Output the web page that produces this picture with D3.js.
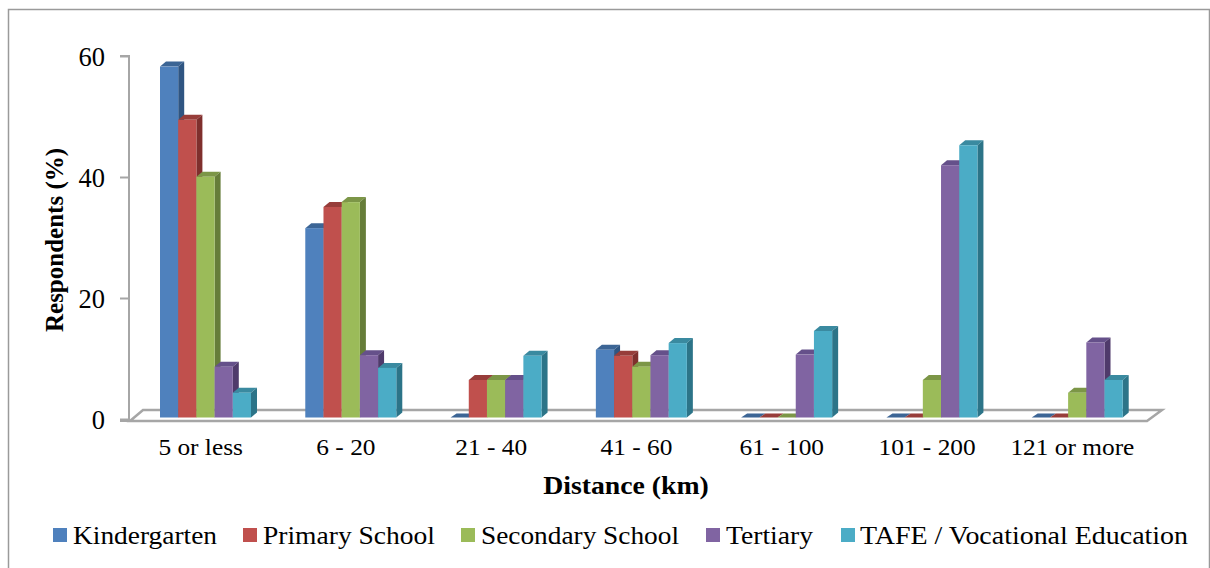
<!DOCTYPE html>
<html><head><meta charset="utf-8">
<script src="https://cdnjs.cloudflare.com/ajax/libs/d3/7.8.5/d3.min.js"></script>
<style>html,body{margin:0;padding:0;background:#fff}svg{display:block}text{font-family:"Liberation Serif",serif;fill:#000}</style>
</head><body><svg id="chart" width="1210" height="568"></svg>
<script>
const categories = ["5 or less","6 - 20","21 - 40","41 - 60","61 - 100","101 - 200","121 or more"];
const seriesNames = ["Kindergarten","Primary School","Secondary School","Tertiary","TAFE / Vocational Education"];
const kindergarten = [58,31.3,0,11.2,0,0,0];
const primarySchool = [49.2,34.8,6.2,10.2,0,0,0];
const secondarySchool = [39.8,35.6,6.2,8.4,0,6.2,4.1];
const tertiary = [8.4,10.3,6.2,10.3,10.4,41.7,12.4];
const tafe = [4.1,8.2,10.2,12.3,14.3,45,6.2];
const seriesValues = [kindergarten,primarySchool,secondarySchool,tertiary,tafe];
const yTicks = [0,20,40,60];
const frontColors = ["#4f81bd","#c0504d","#9bbb59","#8064a2","#4bacc6"];
const sideColors = ["#2f5582","#7f2f2d","#667d39","#4f3a6b","#2c7488"];
const topColors = ["#3c6595","#973d3a","#7c9647","#65508a","#3a8aa0"];
const legendX = [53,243,461,706,841];
const legendTextWidth = [144,172,198,87,328];

const svg = d3.select("#chart");
const gray = "#a6a6a6";
const depthX = 6, depthY = 5;
const plot = {left:130,right:1147,top:56,zero:419};
const x = d3.scaleBand().domain(categories).range([plot.left,plot.right]);
const y = d3.scaleLinear().domain([0,60]).range([plot.zero,plot.top]);
const inner = d3.scaleBand().domain(d3.range(seriesNames.length)).range([30,30+18.2*5]);
const barBase = y(0)-1.5;
const barY = v => barBase-(y(0)-y(v));

// outer chart frame
svg.append("path").attr("d","M8.5,568V9.5H1209.5V568").attr("fill","none").attr("stroke","#9a9a9a").attr("stroke-width",1.5);

// floor of the 3D plot
svg.append("path")
  .attr("d",`M${plot.left},${plot.zero+2}L143,${plot.zero-9}H1162L${plot.right},${plot.zero+2}Z`)
  .attr("fill","#fff").attr("stroke",gray).attr("stroke-width",2.5);

// value axis
const yAxis = d3.axisLeft(y).tickValues(yTicks).tickSize(9).tickPadding(15);
const yg = svg.append("g").attr("transform",`translate(${plot.left-1},0)`).call(yAxis);
yg.selectAll("path,line").attr("stroke",gray).attr("stroke-width",2);
yg.selectAll("text").attr("font-size",26.5).attr("fill","#000").attr("dy","0.36em");
yg.select("path").attr("d",`M-9,${plot.top}H0V${plot.zero+2}H-9`);

// bars: top face, side face, front face; drawn so later series overlap earlier ones
const groups = svg.append("g");
categories.forEach((cat,ci)=>{
  seriesValues.forEach((vals,si)=>{
    const v = vals[ci];
    const x0 = x(cat)+inner(si), w = inner.bandwidth(), x1 = x0+w, yt = barY(v);
    const g = groups.append("g");
    if (v===0) {
      g.append("path").attr("d",`M${x0},${barBase}L${x0+depthX},${barBase-depthY+1}H${x1+depthX}L${x1},${barBase}Z`).attr("fill",topColors[si]);
      return;
    }
    g.append("path").attr("d",`M${x0},${yt}L${x0+depthX},${yt-depthY}H${x1+depthX}L${x1},${yt}Z`).attr("fill",topColors[si]);
    g.append("path").attr("d",`M${x1},${yt}L${x1+depthX},${yt-depthY}V${barBase-depthY}L${x1},${barBase}Z`).attr("fill",sideColors[si]);
    g.append("rect").attr("x",x0).attr("y",yt).attr("width",w).attr("height",barBase-yt).attr("fill",frontColors[si]);
  });
});

// category labels, set slightly wide
svg.append("g").selectAll("text").data(categories).join("text")
  .attr("transform",d=>`translate(${x(d)+x.bandwidth()/2-2},455) scale(1.08,1)`)
  .attr("text-anchor","middle").attr("font-size",23.5).text(d=>d);

// axis titles
svg.append("text").attr("transform","translate(626,494) scale(1.11,1)").attr("text-anchor","middle").attr("font-size",25).attr("font-weight","bold").text("Distance (km)");
svg.append("text").attr("transform","translate(63,240) rotate(-90)").attr("text-anchor","middle").attr("font-size",25).attr("font-weight","bold").text("Respondents (%)");

// legend
const lg = svg.append("g").selectAll("g").data(seriesNames).join("g").attr("transform",(d,i)=>`translate(${legendX[i]},528)`);
lg.append("rect").attr("width",14).attr("height",14).attr("fill",(d,i)=>frontColors[i]);
lg.append("text").attr("x",(d,i)=>i===4?19:20).attr("y",15.5).attr("font-size",25.5)
  .attr("textLength",(d,i)=>legendTextWidth[i]).attr("lengthAdjust","spacingAndGlyphs").text(d=>d);
</script></body></html>
